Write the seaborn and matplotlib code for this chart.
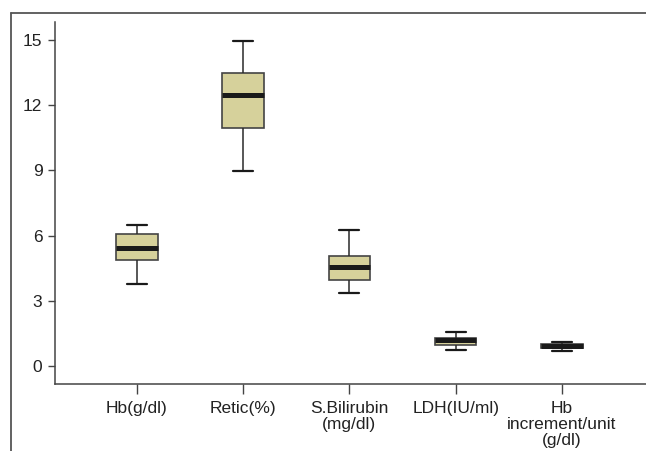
import matplotlib
matplotlib.use("Agg")
import matplotlib.pyplot as plt
from matplotlib.lines import Line2D
import seaborn as sns
import pandas as pd

# five-number summaries: low whisker, Q1, median, Q3, high whisker
categories = ["Hb(g/dl)", "Retic(%)", "S.Bilirubin\n(mg/dl)", "LDH(IU/ml)",
              "Hb\nincrement/unit\n(g/dl)"]
hb = [3.78, 4.86, 5.44, 6.08, 6.48]
retic = [8.97, 10.97, 12.47, 13.47, 14.97]
bilirubin = [3.37, 3.96, 4.53, 5.07, 6.27]
ldh = [0.74, 0.96, 1.17, 1.30, 1.54]
hb_increment = [0.69, 0.80, 0.90, 0.99, 1.09]

yticks = [0, 3, 6, 9, 12, 15]

# long-form table for seaborn
rows = []
for cat, vals in zip(categories, [hb, retic, bilirubin, ldh, hb_increment]):
    for v in vals:
        rows.append({"variable": cat, "value": v})
df = pd.DataFrame(rows)

sns.set_style("white")
plt.rcParams["font.family"] = ["Liberation Sans", "DejaVu Sans"]

fig = plt.figure(figsize=(6.46, 4.51), dpi=100)
ax = fig.add_axes([0.085, 0.149, 0.915, 0.802])

sns.boxplot(data=df, x="variable", y="value", order=categories, ax=ax,
            whis=(0, 100), width=0.39, color="#d6d19b", saturation=1,
            linecolor="#333333", linewidth=1.1,
            boxprops={"edgecolor": "#444444", "linewidth": 1.2},
            medianprops={"color": "#1a1a1a", "linewidth": 3.6},
            whiskerprops={"color": "#2a2a2a", "linewidth": 1.1},
            capprops={"color": "#1a1a1a", "linewidth": 1.6},
            capwidths=0.19)

ax.set_ylim(-0.83, 15.83)
ax.set_xlim(-0.77, 4.79)
ax.set_yticks(yticks)
ax.set_xlabel("")
ax.set_ylabel("")

for side in ["top", "right"]:
    ax.spines[side].set_visible(False)
for side in ["left", "bottom"]:
    ax.spines[side].set_color("#444444")
    ax.spines[side].set_linewidth(1.1)

ax.tick_params(axis="y", direction="out", length=5, width=1, color="#444444",
               labelsize=12.5, labelcolor="#222222", pad=4, left=True)
ax.tick_params(axis="x", direction="out", length=7, width=1, color="#444444",
               labelsize=12.5, labelcolor="#222222", pad=5.5, bottom=True)
for lab in ax.get_xticklabels():
    lab.set_linespacing(1.07)

# outer frame (top and left edges)
fig.add_artist(Line2D([0.017, 1.0], [0.971, 0.971], transform=fig.transFigure,
                      color="#555555", linewidth=1.3))
fig.add_artist(Line2D([0.017, 0.017], [0.0, 0.971], transform=fig.transFigure,
                      color="#555555", linewidth=1.3))

fig.savefig("out.png", dpi=100)
